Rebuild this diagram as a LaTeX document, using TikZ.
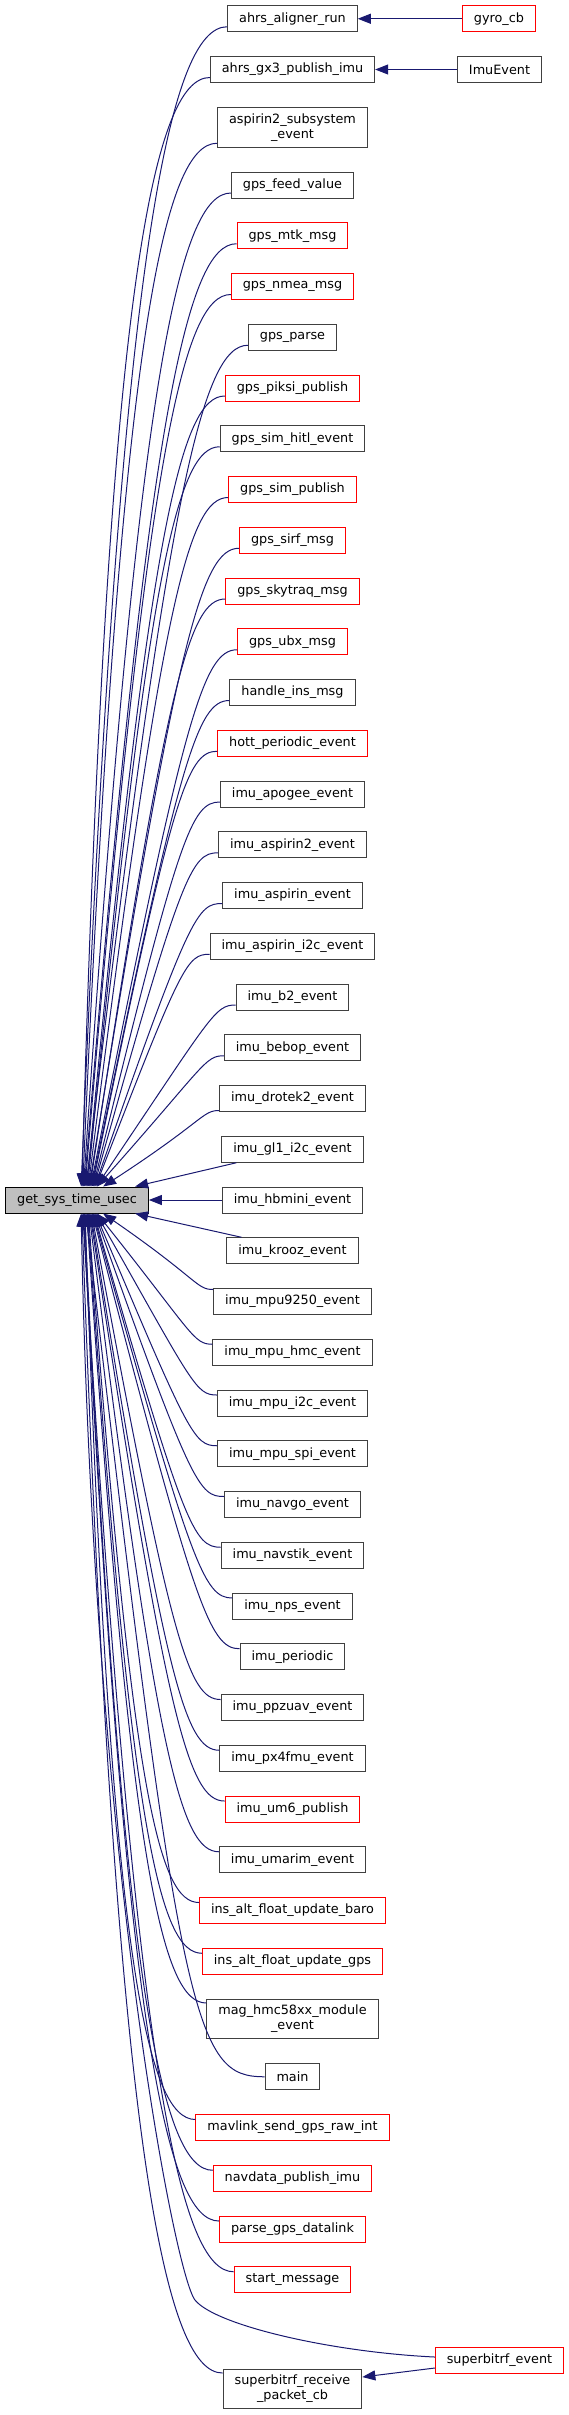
\documentclass[tikz,border=0pt]{standalone}
\usepackage{fontspec}
\setmainfont{DejaVu Sans}
\usetikzlibrary{arrows.meta,calc}
\definecolor{edgeblue}{HTML}{191970}
\definecolor{boxgray}{HTML}{BFBFBF}
\tikzset{
  fn/.style={draw=black!75, line width=1pt, fill=white, minimum height=26pt,
    inner xsep=11.5pt, inner ysep=6pt, align=center,
    font=\fontsize{12.8pt}{15pt}\selectfont},
  call/.style={draw=edgeblue, line width=1pt, {Triangle[length=13pt,width=10pt]}-}
}
\begin{document}
\begin{tikzpicture}[x=1pt,y=-1pt]
\useasboundingbox (0,0) rectangle (568,2415);
% callers of get_sys_time_usec
\foreach \i/\y/\lbl/\col in {
  1/18.75/{ahrs\_aligner\_run}/black!75,
  2/69.5/{ahrs\_gx3\_publish\_imu}/black!75,
  3/127.25/{aspirin2\_subsystem\\\_event}/black!75,
  4/185/{gps\_feed\_value}/black!75,
  5/235.75/{gps\_mtk\_msg}/red,
  6/286.5/{gps\_nmea\_msg}/red,
  7/337.25/{gps\_parse}/black!75,
  8/388/{gps\_piksi\_publish}/red,
  9/438.75/{gps\_sim\_hitl\_event}/black!75,
  10/489.5/{gps\_sim\_publish}/red,
  11/540.25/{gps\_sirf\_msg}/red,
  12/591/{gps\_skytraq\_msg}/red,
  13/641.75/{gps\_ubx\_msg}/red,
  14/692.5/{handle\_ins\_msg}/black!75,
  15/743.25/{hott\_periodic\_event}/red,
  16/794/{imu\_apogee\_event}/black!75,
  17/844.75/{imu\_aspirin2\_event}/black!75,
  18/895.5/{imu\_aspirin\_event}/black!75,
  19/946.25/{imu\_aspirin\_i2c\_event}/black!75,
  20/997/{imu\_b2\_event}/black!75,
  21/1047.75/{imu\_bebop\_event}/black!75,
  22/1098.5/{imu\_drotek2\_event}/black!75,
  23/1149.25/{imu\_gl1\_i2c\_event}/black!75,
  24/1200/{imu\_hbmini\_event}/black!75,
  25/1250.75/{imu\_krooz\_event}/black!75,
  26/1301.5/{imu\_mpu9250\_event}/black!75,
  27/1352.25/{imu\_mpu\_hmc\_event}/black!75,
  28/1403/{imu\_mpu\_i2c\_event}/black!75,
  29/1453.75/{imu\_mpu\_spi\_event}/black!75,
  30/1504.5/{imu\_navgo\_event}/black!75,
  31/1555.25/{imu\_navstik\_event}/black!75,
  32/1606/{imu\_nps\_event}/black!75,
  33/1656.75/{imu\_periodic}/black!75,
  34/1707.5/{imu\_ppzuav\_event}/black!75,
  35/1758.25/{imu\_px4fmu\_event}/black!75,
  36/1809/{imu\_um6\_publish}/red,
  37/1859.75/{imu\_umarim\_event}/black!75,
  38/1910.5/{ins\_alt\_float\_update\_baro}/red,
  39/1961.25/{ins\_alt\_float\_update\_gps}/red,
  40/2019/{mag\_hmc58xx\_module\\\_event}/black!75,
  41/2076.75/{main}/black!75,
  42/2127.5/{mavlink\_send\_gps\_raw\_int}/red,
  43/2178.25/{navdata\_publish\_imu}/red,
  44/2229/{parse\_gps\_datalink}/red,
  45/2279.75/{start\_message}/red,
  46/2389/{superbitrf\_receive\\\_packet\_cb}/black!75}
  {\node[fn, draw=\col] (n\i) at (292.5,\y) {\lbl};}

\node[fn, draw=black, fill=boxgray] (gs) at (77,1200) {get\_sys\_time\_usec};
\node[fn, draw=red] (gyro) at (499,18.75) {gyro\_cb};
\node[fn] (imuev) at (499.5,69.5) {ImuEvent};
\node[fn, draw=red] (sbe) at (499.5,2360) {superbitrf\_event};

\foreach \i in {1,...,22}{
  \pgfmathsetmacro\ex{\i==22 ? 98 : 76+(\i-1)*0.8}
  \pgfmathsetmacro\sh{\i==3 ? 16 : (\i==22 ? 12 : 8)}
  \draw[call] let \p1=([yshift=-\sh pt]n\i.west), \p2=([xshift=\ex pt]gs.north west) in
    (\p2) .. controls ({\x1-8pt-0.086*(\y1-\y2)},{\y1-max(10pt,0.249*(\y1-\y2)-63pt)})
    and ({\x1-14pt-0.038*(\y1-\y2)},\y1) .. (\p1);
}
\foreach \i in {26,...,40,42,43,44,45,46}{
  \pgfmathsetmacro\ex{\i==26 ? 98 : 92-(\i-27)*0.8}
  \pgfmathsetmacro\sh{(\i==40 || \i==46) ? 16 : (\i==26 ? 12 : 8)}
  \draw[call] let \p1=([yshift=\sh pt]n\i.west), \p2=([xshift=\ex pt]gs.south west) in
    (\p2) .. controls ({\x1-8pt-0.086*(\y2-\y1)},{\y1+max(10pt,0.249*(\y2-\y1)-63pt)})
    and ({\x1-14pt-0.038*(\y2-\y1)},\y1) .. (\p1);
}
\draw[call] ([xshift=80.8pt]gs.south west) .. controls (180,2030) and (195,2076.75) .. (n41.west);
\draw[call] ([xshift=130pt]gs.north west) -- ([xshift=15pt]n23.south west);
\draw[call] ([xshift=130pt]gs.south west) -- ([xshift=15pt]n25.north west);
\draw[call] (gs.east) -- (n24.west);

\coordinate (bend) at (195,2300);
\draw[call] ([xshift=76pt]gs.south west) .. controls (94,1865) and (175,2275) .. (bend)
  .. controls (215,2325) and (330,2352) .. ([yshift=3pt]sbe.west);

\draw[call] (n1.east) -- (gyro.west);
\draw[call] (n2.east) -- (imuev.west);
\draw[call] ([yshift=12pt]n46.east) -- ([yshift=-8pt]sbe.west);
\end{tikzpicture}
\end{document}
